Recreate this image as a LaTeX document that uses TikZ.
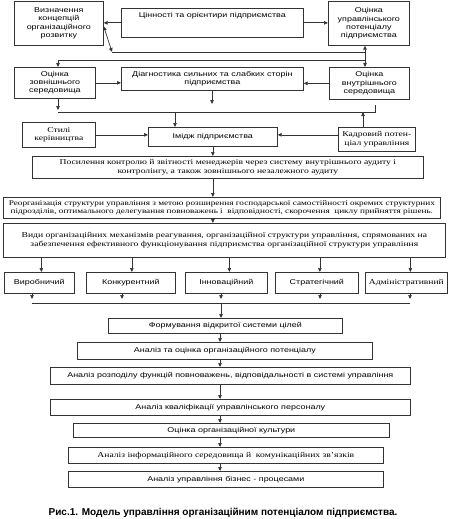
\documentclass[tikz,border=0pt]{standalone}
\usepackage{fontspec}
\newfontfamily\sansf[FakeStretch=1.28]{Liberation Sans}
\newfontfamily\seriff[FakeStretch=1.28]{Liberation Serif}
\newfontfamily\capf{Liberation Sans}
\usetikzlibrary{arrows.meta}
\newcommand\mybox[7]{\node[#2, anchor=north west, minimum width={#5pt-#3pt}, minimum height={#6pt-#4pt}] (#1) at (#3,#4) {#7};}
\tikzset{
  box/.style={draw=black!80, line width=0.7pt, inner sep=1pt, align=center, text=black},
  sbox/.style={box, font=\sansf\fontsize{7}{8.3}\selectfont},
  rbox/.style={box, font=\seriff\fontsize{7.5}{8.3}\selectfont},
  ln/.style={draw=black!80, line width=0.7pt},
  arr/.style={ln, -{Triangle[length=4pt,width=3.5pt]}},
  arrb/.style={ln, {Triangle[length=4pt,width=3.5pt]}-{Triangle[length=4pt,width=3.5pt]}},
}
\begin{document}
\begin{tikzpicture}[x=1pt,y=-1pt]
\useasboundingbox (0,0) rectangle (455,519);
% top row
\mybox{A}{sbox}{14}{1}{103}{45}{Визначення\\концепцій\\організаційного\\розвитку}
\mybox{B}{sbox}{121}{8}{303}{37}{}
\node[font=\sansf\fontsize{7}{8.3}\selectfont, text=black, anchor=north, inner sep=0pt] (Bt) at ([yshift=-4pt]B.north) {Цінності та орієнтири підприємства};
\mybox{C}{sbox}{328}{1}{409}{45}{Оцінка\\управлінського\\потенціалу\\підприємства}
% second row
\mybox{E}{sbox}{14}{67}{95}{98}{Оцінка\\зовнішнього\\середовища}
\mybox{F}{sbox}{121}{67}{303}{90}{Діагностика сильних та слабких сторін\\підприємства}
\mybox{D}{sbox}{329}{67}{409}{99}{Оцінка\\внутрішнього\\середовища}
% third row
\mybox{G}{rbox}{22}{122}{95}{147}{Стилі\\керівництва}
\mybox{H}{sbox}{148}{127}{277}{146}{Імідж підприємства}
\mybox{I}{rbox}{338}{127}{415}{151}{Кадровий потен-\\ціал управління}
% wide boxes
\mybox{J}{rbox}{32}{156}{423}{178}{Посилення контролю й звітності менеджерів через систему внутрішнього аудиту і\\контролінгу, а також зовнішнього незалежного аудиту}
\mybox{K}{rbox, font=\seriff\fontsize{7.2}{8.3}\selectfont}{3}{197}{440}{218}{Реорганізація структури управління з метою розширення господарської самостійності окремих структурних\\підрозділів, оптимального делегування повноважень і \ відповідності, скорочення \ циклу прийняття рішень.}
\mybox{L}{rbox}{3}{223}{445}{257}{Види організаційних механізмів реагування, організаційної структури управління, спрямованих на\\забезпечення ефективного функціонування підприємства організаційної структури управління}
% row of five
\mybox{V1}{sbox}{4}{272}{74}{293}{Виробничий}
\mybox{V2}{sbox}{86}{272}{175}{293}{Конкурентний}
\mybox{V3}{sbox}{185}{272}{267}{293}{Інноваційний}
\mybox{V4}{sbox}{275}{272}{358}{293}{Стратегічний}
\mybox{V5}{rbox}{365}{272}{447}{293}{Адміністративний}
% chain
\mybox{M}{sbox}{108}{318}{342}{333}{Формування відкритої системи цілей}
\mybox{N}{sbox}{77}{342}{372}{359}{Аналіз та оцінка організаційного потенціалу}
\mybox{O}{sbox}{50}{367}{410}{384}{Аналіз розподілу функцій повноважень, відповідальності в системі управління}
\mybox{P}{sbox}{50}{399}{410}{415}{Аналіз кваліфікації управлінського персоналу}
\mybox{Q}{sbox}{73}{423}{389}{437}{Оцінка організаційної культури}
\mybox{R}{rbox}{68}{447}{383}{463}{Аналіз інформаційного середовища й \ комунікаційних зв’язків}
\mybox{S}{sbox}{68}{471}{383}{487}{Аналіз управління бізнес - процесами}
\node[font=\capf\bfseries\fontsize{10}{12}\selectfont, inner sep=0pt] (cap) at (223,513) {Рис.1. Модель управління організаційним потенціалом підприємства.};
% connectors top
\draw[arr] (B.west) -- (A.east |- B.west);
\draw[arr] (B.east) -- (C.west |- B.east);
\coordinate (j1) at (112,52);
\coordinate (j2) at (365,52);
\coordinate (j3) at (365,60);
\coordinate (j4) at (58,60);
\draw[arrb] ([yshift=-3pt]A.east) -- (j1);
\draw[ln] (j1) -- (j2);
\draw[arrb] (C.south -| j2) -- (D.north -| j2);
\draw[arr] (j3) -- (j4) -- (E.north -| j4);
\draw[arr] (E.east) -- (F.west |- E.east);
\draw[arr] (D.west) -- (F.east |- D.west);
\coordinate (e1) at (58,110);
\coordinate (f1) at (212,104);
\draw[arr] (E.south -| e1) -- (e1);
\draw[arr] (F.south -| f1) -- (f1);
\coordinate (l1) at (58,112);
\coordinate (l2) at (375,112);
\coordinate (l3) at (375,105);
\coordinate (l4) at (363,112);
\coordinate (l5) at (175,112);
\draw[ln] (l1) -- (l2) -- (l3);
\draw[arr] (I.north -| l4) -- (l4);
\draw[arr] (l5) -- (H.north -| l5);
\draw[arr] (G.east) -- (H.west |- G.east);
\draw[arr] (I.west |- G.east) -- (H.east |- G.east);
\draw[arr] (H.south) -- (J.north -| H.south);
\draw[arr] (J.south -| H.south) -- (K.north -| H.south);
\draw[arr] (K.south -| H.south) -- (L.north -| H.south);
% to five
\foreach \v/\dx in {V1/2,V2/1,V3/3,V4/3,V5/4}{
  \draw[arr] (L.south -| \v.north) ++(\dx,0) -- ([xshift=\dx pt]\v.north);
}
% from five
\coordinate (b1) at (32,299);
\coordinate (b2) at (122,299);
\coordinate (b3) at (221,299);
\coordinate (b4) at (320,299);
\coordinate (b5) at (410,299);
\foreach \v/\b in {V1/b1,V2/b2,V3/b3,V4/b4,V5/b5}{
  \draw[arr] (\v.south -| \b) -- (\b);
}
\coordinate (m1) at (32,303);
\coordinate (m2) at (410,303);
\coordinate (m3) at (221,303);
\draw[ln] (m1) -- (m2);
\draw[arr] (m3) -- (M.north -| m3);
\coordinate (x0) at (220,0);
\draw[arr] (M.south -| x0) -- (N.north -| x0);
\draw[arr] (N.south -| x0) -- (O.north -| x0);
\draw[arr] (O.south -| x0) -- (P.north -| x0);
\draw[arr] (P.south -| x0) -- (Q.north -| x0);
\draw[arr] (Q.south -| x0) -- (R.north -| x0);
\draw[arr] (R.south -| x0) -- (S.north -| x0);
\end{tikzpicture}
\end{document}
